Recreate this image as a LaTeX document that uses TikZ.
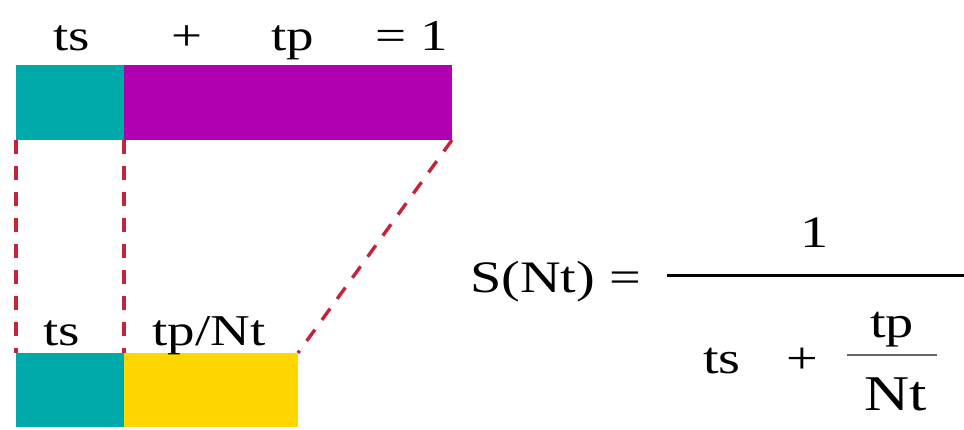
\documentclass[tikz,border=0pt]{standalone}
\usepackage{fontspec}
\setmainfont{Liberation Serif}[FakeStretch=1.25]

\definecolor{serialcol}{RGB}{0,170,170}
\definecolor{parcol}{RGB}{176,0,176}
\definecolor{splitcol}{RGB}{255,214,0}
\definecolor{guidecol}{RGB}{196,36,58}

\tikzset{
  bar/.style={anchor=north west, inner sep=0pt, outer sep=0pt, draw=none},
  lbl/.style={anchor=base, inner sep=0pt, font=\fontsize{44}{48}\selectfont},
  eqn/.style={anchor=base, inner sep=0pt, font=\fontsize{45}{49}\selectfont},
  guide/.style={guidecol, line width=3.4pt, dash pattern=on 14pt off 12pt}
}

\begin{document}
\begin{tikzpicture}[x=1pt,y=-1pt]
\useasboundingbox (0,0) rectangle (964,429);

% serial + parallel time, one worker
\node[bar, fill=serialcol, minimum width=108pt, minimum height=75pt] (tsTop) at (16,65) {};
\node[bar, fill=parcol, minimum width=328pt, minimum height=75pt] (tpTop) at (tsTop.north east) {};
\node[lbl] (tsTopLbl) at (72,50) {ts};
\node[lbl] (plusTop) at (187,50) {+};
\node[lbl] (tpTopLbl) at (293,50) {tp};
\node[lbl] (oneTop) at (412,50) {= 1};

% Nt workers
\node[bar, fill=serialcol, minimum width=108pt, minimum height=74pt] (tsBot) at (16,353) {};
\node[bar, fill=splitcol, minimum width=174pt, minimum height=74pt] (tpBot) at (tsBot.north east) {};
\node[lbl] (tsBotLbl) at (62,345) {ts};
\node[lbl] (tpBotLbl) at (209,345) {tp/Nt};

\draw[guide] (tsTop.south west) -- (tsBot.north west);
\draw[guide] (tsTop.south east) -- (tsBot.north east);
\draw[guide] (tpTop.south east) -- (tpBot.north east);

% speedup
\node[eqn, anchor=base west] (lhs) at (470,292) {S(Nt) =};
\node[eqn] (num) at (815,247) {1};
\draw[line width=3pt] (667,275) -- (964,275);
\node[eqn] (denTs) at (722,373) {ts};
\node[eqn] (denPlus) at (802,373) {+};
\node[eqn] (subNum) at (892,337) {tp};
\draw[line width=2.5pt, black!60] (847,355) -- (937,355);
\node[eqn, font=\fontsize{50}{54}\selectfont] (subDen) at (896,410) {Nt};
\end{tikzpicture}
\end{document}
